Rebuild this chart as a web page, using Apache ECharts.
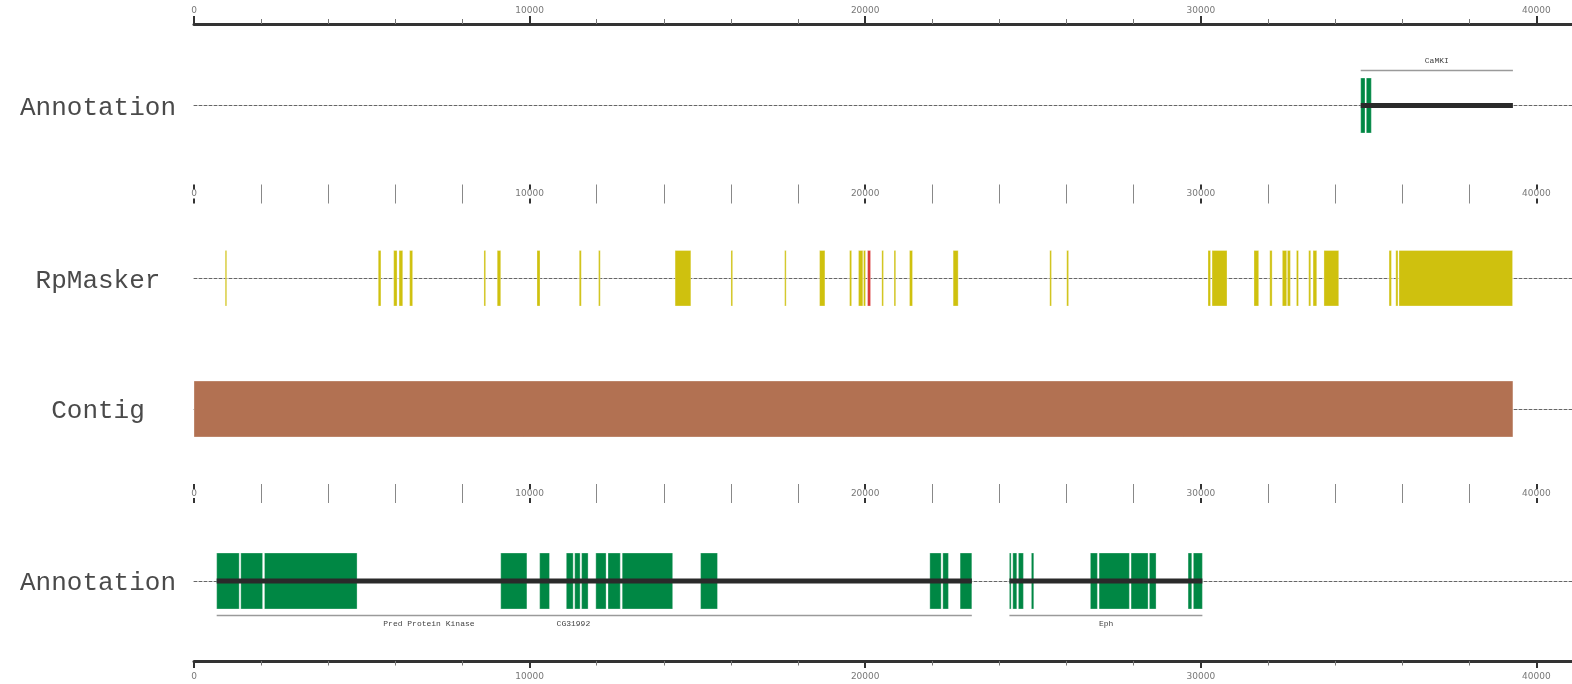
<!DOCTYPE html>
<html><head><meta charset="utf-8">
<script src="https://cdn.jsdelivr.net/npm/echarts@6/dist/echarts.min.js"></script>
<style>html,body{margin:0;padding:0;background:#fff}#c{width:1572px;height:684px}</style>
</head><body><div id="c"></div><script>
// ---- data ----
const trackNames = ['Annotation', 'RpMasker', 'Contig', 'Annotation'];
const camkiExons = [[34765, 34893], [34932, 35081]];
const topGenes = [[34765, 39300]];
const topGeneLabels = [['CaMKI', 37032]];
const rpmaskerBlocks = [
  [930, 975], [5490, 5570], [5950, 6050], [6110, 6220], [6425, 6515], [8640, 8690], [9035, 9140],
  [10220, 10310], [11480, 11540], [12055, 12105], [14335, 14805], [16000, 16050], [17600, 17645],
  [18640, 18800], [19535, 19595], [19800, 19930], [19950, 20010], [20495, 20545], [20860, 20910],
  [21320, 21410], [22620, 22770], [25500, 25550], [26005, 26060], [30215, 30290], [30335, 30780],
  [31585, 31725], [32055, 32125], [32430, 32560], [32580, 32670], [32850, 32910], [33215, 33275],
  [33345, 33455], [33670, 34110], [35610, 35680], [35810, 35875], [35905, 39290]
];
const rpmaskerRed = [[20070, 20160]];
const contigSpan = [[0, 39300]];
const bottomExons = [
  [676, 1347], [1394, 2044], [2100, 4859], [9140, 9920], [10300, 10593], [11094, 11299], [11344, 11505],
  [11550, 11743], [11973, 12279], [12336, 12702], [12759, 14263], [15095, 15598], [21926, 22263],
  [22313, 22480], [22828, 23177],
  [24297, 24348], [24398, 24517], [24566, 24714], [24952, 25023], [26710, 26919], [26969, 27872],
  [27922, 28429], [28468, 28667], [29621, 29731], [29778, 30047]
];
const bottomGenes = [[676, 23177], [24297, 30047]];
const bottomGeneLabels = [['Pred Protein Kinase', 7000], ['CG31992', 11305], ['Eph', 27180]];

const X_MIN = 0, X_MAX = 50000, X_STEP = 10000;

// ---- styles / layout ----
const GREEN = '#008744', YELLOW = '#CFC10E', RED = '#D83A3A', CONTIG = '#B27152';
const gridBoxes = [
  {top: 24, height: 1},      // 0 top axis
  {top: 78, height: 55},     // 1 annotation top
  {top: 184.5, height: 19},  // 2 mid axis
  {top: 250.5, height: 55.5},// 3 rpmasker
  {top: 381, height: 56},    // 4 contig
  {top: 484, height: 19},    // 5 mid axis
  {top: 553, height: 56},    // 6 annotation bottom
  {top: 660, height: 1}      // 7 bottom axis
];
const grids = gridBoxes.map(g => ({left: 194, right: -300, top: g.top, height: g.height, outerBoundsMode: 'none', containLabel: false}));

const labelFont = {fontSize: 9, color: '#777', fontFamily: 'DejaVu Sans', formatter: v => String(v)};
function baseX(i) { return {type: 'value', min: X_MIN, max: X_MAX, interval: X_STEP, gridIndex: i, splitLine: {show: false}}; }

const xAxes = [];
const yAxes = [];
const trackGridMap = {1: 0, 3: 1, 4: 2, 6: 3};
for (let i = 0; i < gridBoxes.length; i++) {
  let ax = baseX(i);
  if (i === 0 || i === 7) {
    Object.assign(ax, {
      position: i === 0 ? 'top' : 'bottom',
      axisLine: {show: true, onZero: false, lineStyle: {color: '#333', width: 3}},
      axisTick: {show: true, length: i === 0 ? 8 : 7, lineStyle: {color: '#333', width: 2}},
      minorTick: {show: true, splitNumber: 5, length: i === 0 ? 5 : 4.5, lineStyle: {color: '#777', width: 1}},
      axisLabel: Object.assign({show: true, margin: i === 0 ? 9 : 11, showMaxLabel: false}, labelFont)
    });
  } else if (i === 2 || i === 5) {
    Object.assign(ax, {
      position: 'bottom',
      axisLine: {show: false, onZero: false},
      axisTick: {show: true, inside: true, length: 19, lineStyle: {color: '#333', width: 2}},
      minorTick: {show: true, splitNumber: 5, length: 19, lineStyle: {color: '#888', width: 1}},
      axisLabel: Object.assign({show: true, margin: -9.5, verticalAlign: 'middle', backgroundColor: '#fff', padding: [0, 1], showMaxLabel: false}, labelFont)
    });
  } else {
    Object.assign(ax, {
      axisLine: {show: true, onZero: true, lineStyle: {color: '#666', width: 1, type: [3, 2]}},
      axisTick: {show: false}, minorTick: {show: false}, axisLabel: {show: false}
    });
  }
  xAxes.push(ax);
  if (i in trackGridMap) {
    const name = trackNames[trackGridMap[i]];
    yAxes.push({type: 'value', gridIndex: i, min: -1, max: 1, interval: 1,
      axisLine: {show: false}, axisTick: {show: false}, splitLine: {show: false},
      axisLabel: {show: true, formatter: v => (v === 0 ? '{t|' + name + '}' : ''), align: 'center', margin: 96,
        rich: {t: {padding: [5, 0, 0, 0], fontFamily: 'Liberation Mono', fontSize: 26, color: '#4a4a4a'}},
        fontFamily: 'Liberation Mono', fontSize: 26, color: '#4a4a4a'}});
  } else {
    yAxes.push({type: 'value', gridIndex: i, min: -1, max: 1, show: false});
  }
}

function rectItem(color) {
  return function (params, api) {
    const s = api.coord([api.value(0), 1]);
    const e = api.coord([api.value(1), -1]);
    return {type: 'rect', shape: {x: s[0], y: s[1], width: Math.max(e[0] - s[0], 1), height: e[1] - s[1]},
      style: {fill: color, stroke: 'rgba(255,255,255,0.3)', lineWidth: 1}};
  };
}
function geneItem(side) {
  return function (params, api) {
    const a = api.coord([api.value(0), 0]);
    const b = api.coord([api.value(1), 0]);
    const top = api.coord([api.value(0), 1])[1];
    const bot = api.coord([api.value(0), -1])[1];
    const ly = side < 0 ? top - 7.5 : bot + 6.5;
    return {type: 'group', children: [
      {type: 'rect', shape: {x: a[0], y: a[1] - 2.5, width: b[0] - a[0], height: 5}, style: {fill: '#2a2a2a'}},
      {type: 'line', shape: {x1: a[0], y1: ly, x2: b[0], y2: ly}, style: {stroke: '#9a9a9a', lineWidth: 1.5}}
    ]};
  };
}
function labelItem(list, side) {
  return function (params, api) {
    const p = api.coord([api.value(0), side < 0 ? 1 : -1]);
    const y = side < 0 ? p[1] - 17.5 : p[1] + 15;
    return {type: 'text', x: p[0], y: y,
      style: {text: list[params.dataIndex][0], align: 'center', verticalAlign: 'middle',
        textAlign: 'center', textVerticalAlign: 'middle', font: '8px "Liberation Mono"', fill: '#444'}};
  };
}
function cs(gi, data, render, z) {
  return {type: 'custom', xAxisIndex: gi, yAxisIndex: gi, data: data, renderItem: render, z: z || 2, silent: true, animation: false};
}

const option = {
  animation: false,
  backgroundColor: '#fff',
  grid: grids,
  xAxis: xAxes,
  yAxis: yAxes,
  series: [
    cs(1, camkiExons, rectItem(GREEN), 2),
    cs(1, topGenes, geneItem(-1), 3),
    cs(1, topGeneLabels.map(d => [d[1]]), labelItem(topGeneLabels, -1), 3),
    cs(3, rpmaskerBlocks, rectItem(YELLOW), 2),
    cs(3, rpmaskerRed, rectItem(RED), 3),
    cs(4, contigSpan, rectItem(CONTIG), 2),
    cs(6, bottomExons, rectItem(GREEN), 2),
    cs(6, bottomGenes, geneItem(1), 3),
    cs(6, bottomGeneLabels.map(d => [d[1]]), labelItem(bottomGeneLabels, 1), 3)
  ]
};
const chart = echarts.init(document.getElementById('c'), null, {renderer: 'canvas'});
chart.setOption(option);
</script></body></html>
